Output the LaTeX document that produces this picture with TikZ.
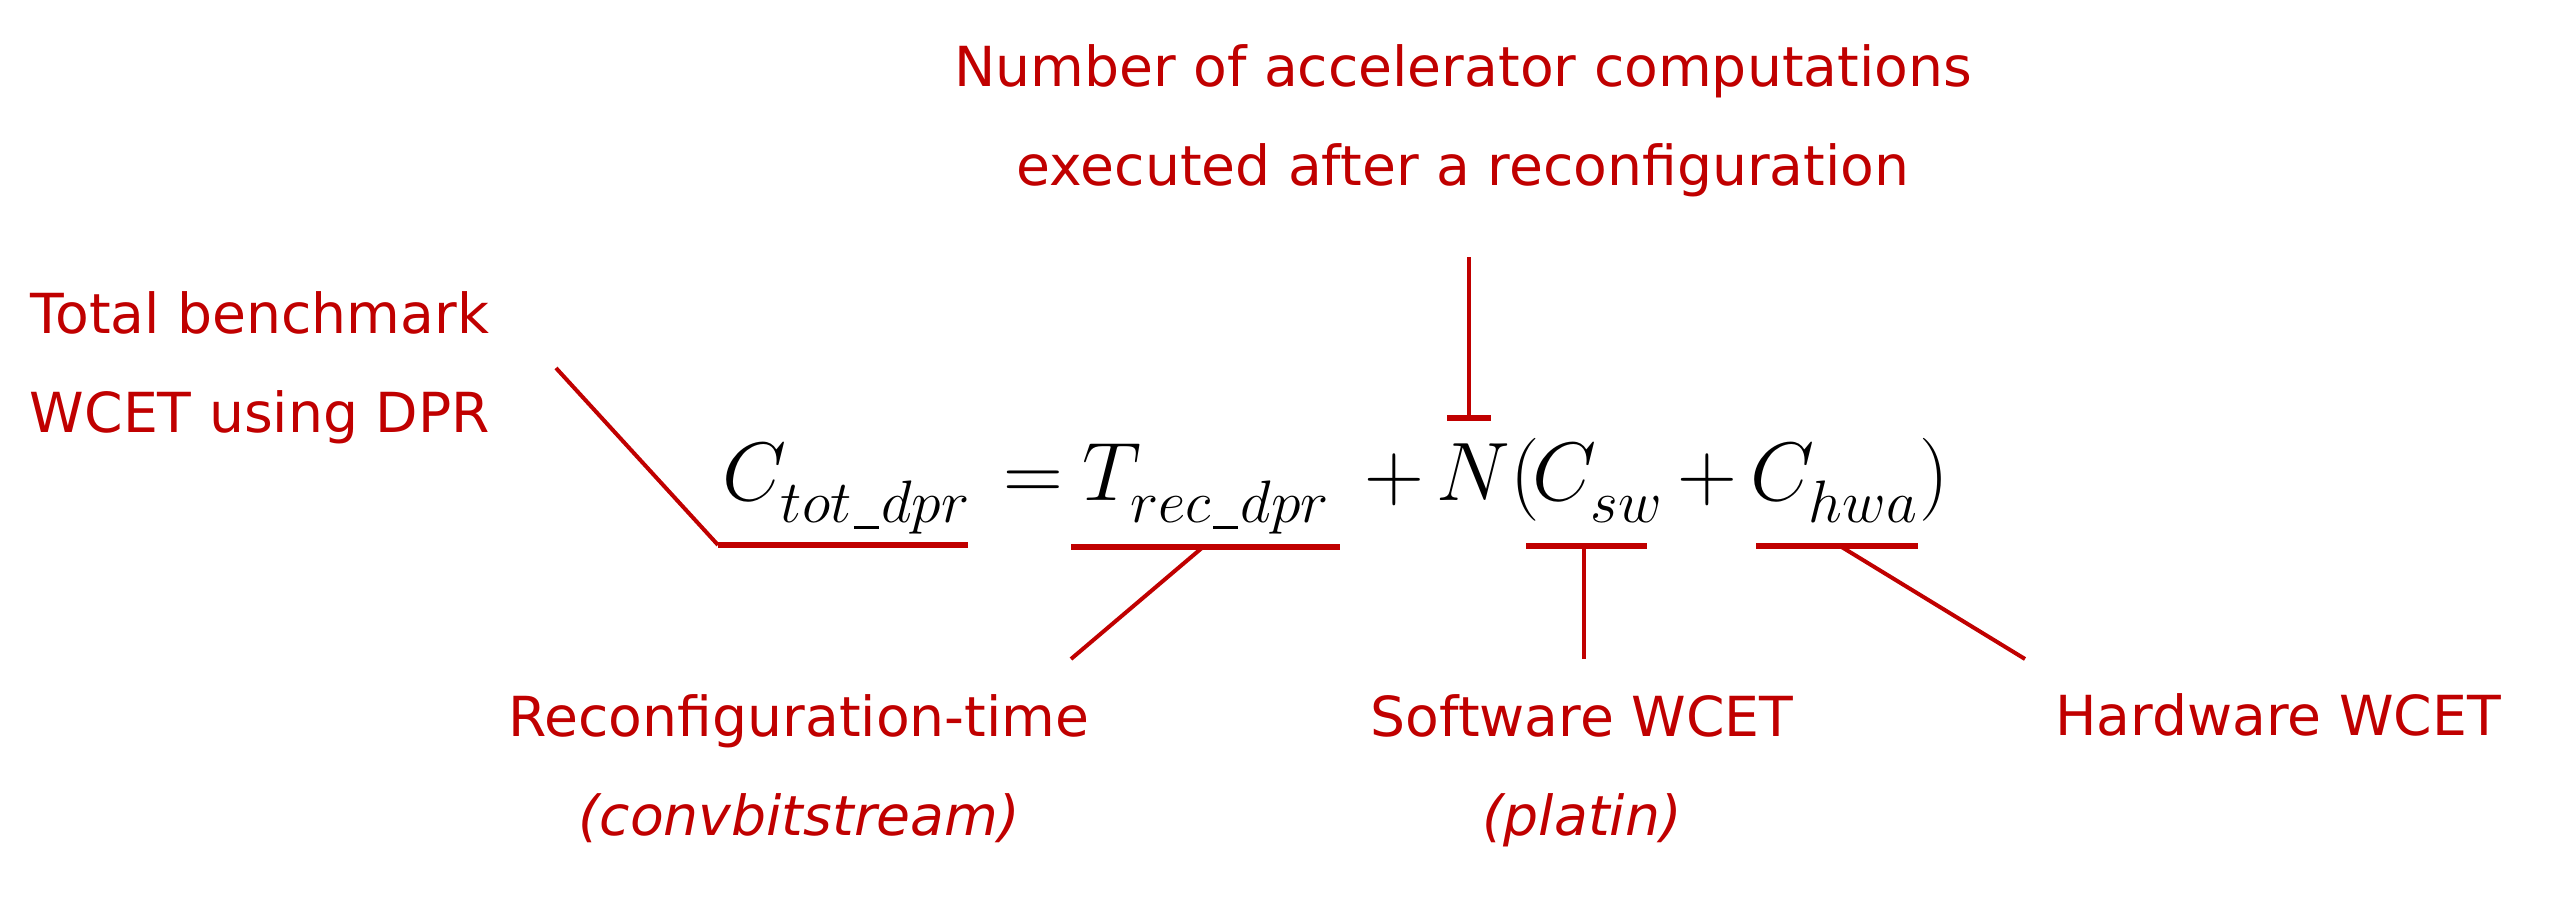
\documentclass[tikz,border=0pt]{standalone}
\usepackage{graphicx}
\usepackage{fontspec}
\newfontfamily\lab{DejaVu Sans}
\definecolor{dred}{RGB}{192,0,0}
\newcommand{\myus}{\mbox{\kern0.6pt\rule[-1.6pt]{6pt}{0.7pt}\kern0.6pt}}
\newcommand{\mysub}[1]{\lower2.5pt\hbox{\scalebox{1.04}{$\scriptstyle #1$}}}
\tikzset{
  lbl/.style={text=dred, font=\lab\fontsize{13.8}{24.75}\selectfont, align=center, inner sep=0pt, anchor=base},
  eqn/.style={font=\fontsize{19.4}{23}\selectfont, inner sep=0pt, anchor=base west},
  bar/.style={draw=dred, line width=1.5pt},
  lead/.style={draw=dred, line width=1pt},
}
\begin{document}
\begin{tikzpicture}[x=0.25pt,y=-0.25pt]
\useasboundingbox (0,0) rectangle (2558,911);

% labels (base anchor = baseline of last line)
\node[lbl] (num) at (1463,185) {Number of accelerator computations\\executed after a reconfiguration};
\node[lbl] (tot) at (260,432) {Total benchmark\\WCET using DPR};
\node[lbl] (rec) at (799,835) {Reconfiguration-time\\\itshape(convbitstream)};
\node[lbl] (sw) at (1582,835) {Software WCET\\\itshape(platin)};
\node[lbl] (hw) at (2278,735) {Hardware WCET};

% equation
\node[eqn] (ctot) at (722,500) {$C_{\mysub{tot\myus dpr}}$};
\node[eqn] (eq) at (1003,500) {$=$};
\node[eqn] (trec) at (1082,500) {$T_{\mysub{rec\myus dpr}}$};
\node[eqn] (p1) at (1364,500) {$+$};
\node[eqn] (nn) at (1436,500) {$N($};
\node[eqn] (csw) at (1532,500) {$C_{\mysub{sw}}$};
\node[eqn] (p2) at (1677,500) {$+$};
\node[eqn] (chwa) at (1750,500) {$C_{\mysub{hwa}}$};
\node[eqn] (rp) at (1919,500) {$)$};

% connector points
\coordinate (a1) at (556,368);
\coordinate (a2) at (718,545);
\coordinate (a3) at (968,545);
\coordinate (b1) at (1071,547);
\coordinate (b2) at (1340,547);
\coordinate (b3) at (1203,547);
\coordinate (b4) at (1071,659);
\coordinate (c1) at (1526,546);
\coordinate (c2) at (1647,546);
\coordinate (c3) at (1584,546);
\coordinate (c4) at (1584,659);
\coordinate (d1) at (1756,546);
\coordinate (d2) at (1918,546);
\coordinate (d3) at (1840,546);
\coordinate (d4) at (2025,659);
\coordinate (e1) at (1469,257);
\coordinate (e2) at (1469,418);
\coordinate (e3) at (1447,418);
\coordinate (e4) at (1491,418);

\draw[lead] (a1) -- (a2);
\draw[bar] (a2) -- (a3);
\draw[bar] (b1) -- (b2);
\draw[lead] (b3) -- (b4);
\draw[bar] (c1) -- (c2);
\draw[lead] (c3) -- (c4);
\draw[bar] (d1) -- (d2);
\draw[lead] (d3) -- (d4);
\draw[lead] (e1) -- (e2);
\draw[bar] (e3) -- (e4);
\end{tikzpicture}
\end{document}
